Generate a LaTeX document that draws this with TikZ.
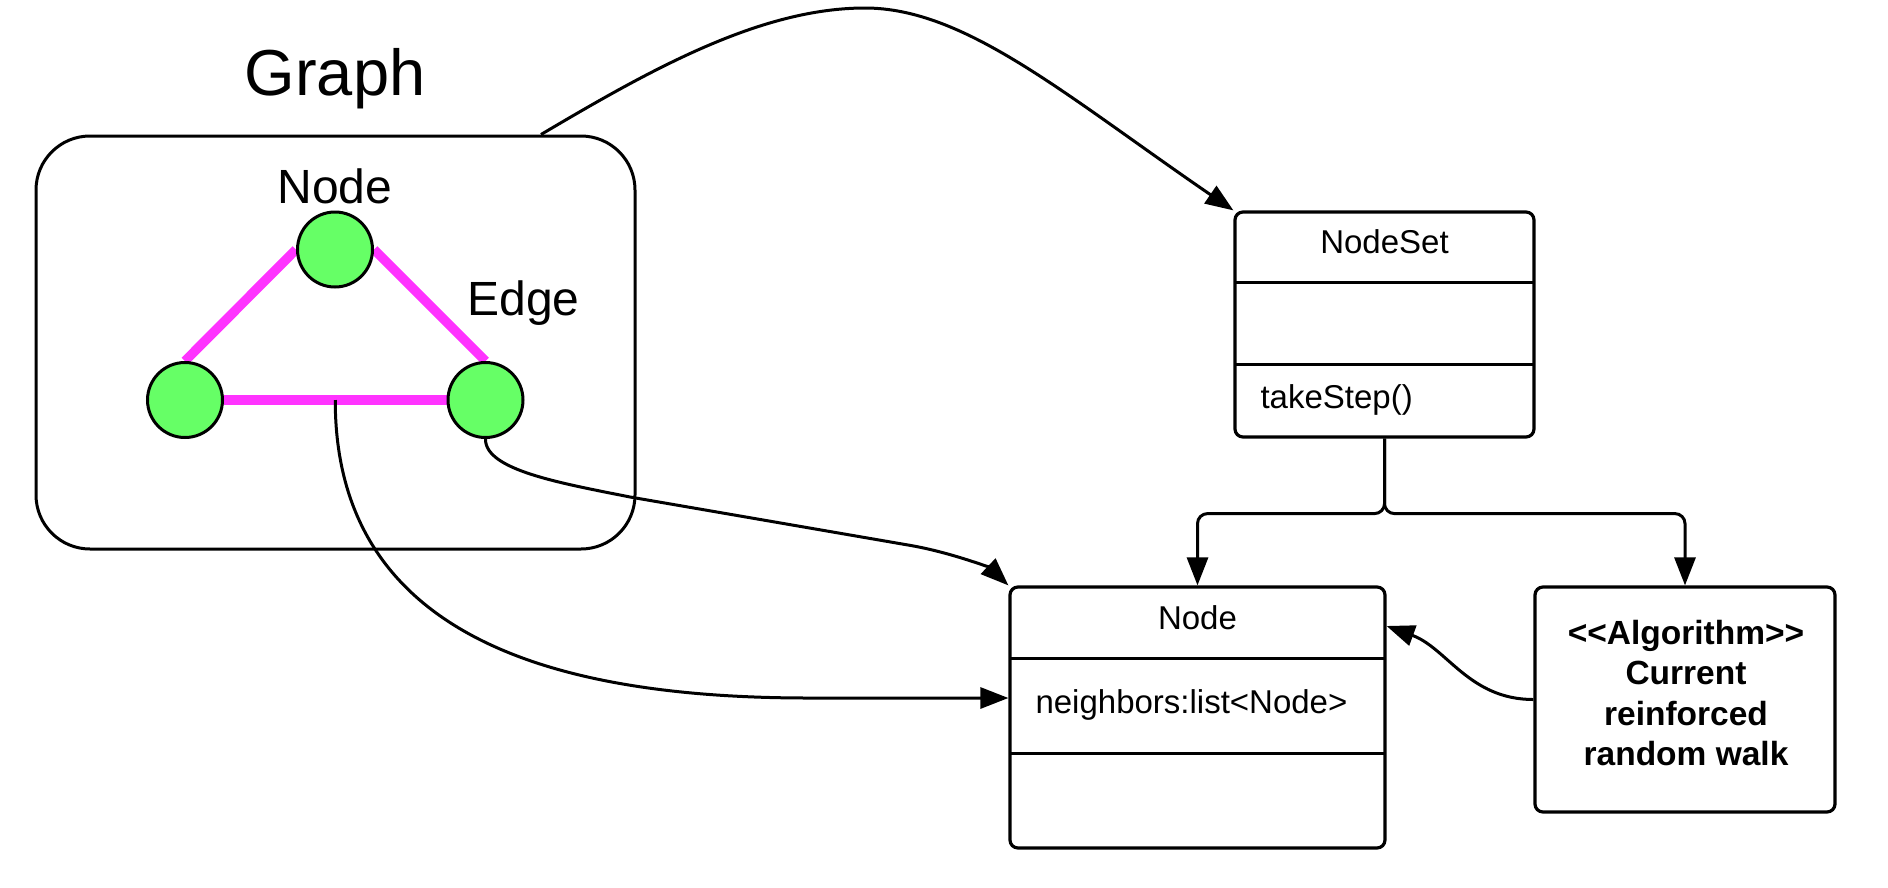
\documentclass[tikz,border=0pt]{standalone}
\usepackage{fontspec}
\setmainfont{Liberation Sans}
\usetikzlibrary{arrows.meta}
\definecolor{nodegreen}{HTML}{66FF66}
\definecolor{edgemag}{HTML}{FF33FF}
\begin{document}
\begin{tikzpicture}[x=1pt,y=-1pt,
  conn/.style={line width=3pt, -{Triangle[length=28pt,width=21pt]}},
  plain/.style={line width=3pt},
  umlbox/.style={draw, line width=3.2pt, rounded corners=8pt, inner sep=0pt},
  gcirc/.style={circle, draw, fill=nodegreen, line width=3pt, minimum size=75pt, inner sep=0pt},
  edgeline/.style={line width=9.5pt, draw=edgemag},
  bigtxt/.style={font=\fontsize{65}{78}\selectfont},
  labtxt/.style={font=\fontsize{48}{58}\selectfont},
  umltxt/.style={font=\fontsize{33}{40}\selectfont},
  algtxt/.style={font=\bfseries\fontsize{33.5}{40.5}\selectfont, align=center},
]
\useasboundingbox (0,0) rectangle (1888,887);

% Graph container
\node[draw, line width=3pt, rounded corners=54pt, minimum width=599pt, minimum height=413pt, inner sep=0pt] (gbox) at (335.5,342.5) {};
\node[bigtxt, anchor=base] (gtitle) at (335,95) {Graph};
\node[labtxt, anchor=base] (nlab) at (335,203) {Node};
\node[labtxt, anchor=base] (elab) at (523.5,315) {Edge};

% circles (positions), edges drawn beneath
\node[gcirc, draw=none, fill=none] (ntop) at (335,249.5) {};
\node[gcirc, draw=none, fill=none] (nleft) at (185,400) {};
\node[gcirc, draw=none, fill=none] (nright) at (485.5,400) {};
\draw[edgeline] (nleft.north) -- (ntop.west);
\draw[edgeline] (ntop.east) -- (nright.north);
\draw[edgeline] (nleft.east) -- (nright.west);
\node[gcirc] at (ntop) {};
\node[gcirc] at (nleft) {};
\node[gcirc] at (nright) {};
\path (nleft) -- (nright) coordinate[pos=0.5] (emid);

% NodeSet class
\node[umlbox, minimum width=299pt, minimum height=225pt] (nodeset) at (1384.5,324.5) {};
\draw[plain] (1235,282) -- (1534,282);
\draw[plain] (1235,364) -- (1534,364);
\node[umltxt, anchor=base] (nstitle) at (1384.5,253) {NodeSet};
\node[umltxt, anchor=base west] (nsop) at (1257,408) {takeStep()};

% Node class
\node[umlbox, minimum width=375pt, minimum height=261pt] (nodecls) at (1197.5,717.5) {};
\draw[plain] (1010,658) -- (1385,658);
\draw[plain] (1010,753) -- (1385,753);
\node[umltxt, anchor=base] (nctitle) at (1197.5,629) {Node};
\node[umltxt, anchor=base west] (nb) at (1032,713) {neighbors:list<Node>};

% Algorithm
\node[umlbox, minimum width=300pt, minimum height=225pt] (alg) at (1685,699.5) {};
\node[algtxt] (algtext) at (1686,693) {<{}<Algorithm>{}>\\Current\\reinforced\\random walk};

% connectors
\draw[conn] ([xshift=205.5pt]gbox.north) .. controls (650,70) and (760,8) .. (865,8) .. controls (965,8) and (1065,95) .. (nodeset.north west);
\draw[conn] (nright.south) .. controls (485,470) and (560,483) .. (630,497) -- (908,545) .. controls (950,552) and (990,568) .. (nodecls.north west);
\draw[conn] (emid) .. controls (335,640) and (560,698) .. (809,698) -- ([yshift=19.5pt]nodecls.west);
\draw[conn, rounded corners=10pt] (nodeset.south) -- ++(0,75) -| (nodecls.north);
\draw[conn, rounded corners=10pt] (nodeset.south) -- ++(0,75) -| (alg.north);
\draw[conn] (alg.west) to[out=180,in=-20] ([yshift=91.5pt]nodecls.east);
\end{tikzpicture}
\end{document}
